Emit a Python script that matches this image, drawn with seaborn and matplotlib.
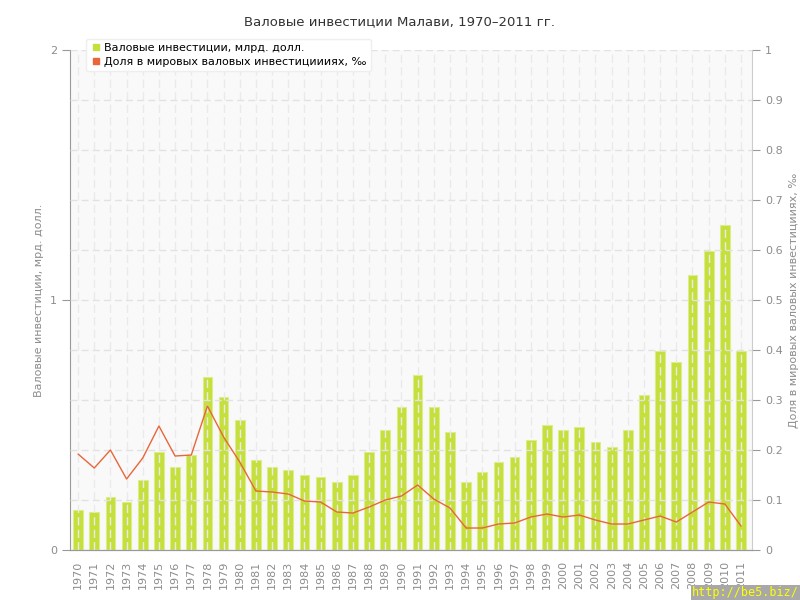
import numpy as np
import pandas as pd
import matplotlib
matplotlib.use('Agg')
import matplotlib.pyplot as plt
import seaborn as sns
from matplotlib.lines import Line2D

years = list(range(1970, 2012))
# валовые инвестиции, млрд. долл.
invest = [0.16, 0.152, 0.212, 0.192, 0.28, 0.392, 0.332, 0.38, 0.692, 0.612,
          0.52, 0.36, 0.332, 0.32, 0.30, 0.292, 0.272, 0.30, 0.392, 0.48,
          0.572, 0.70, 0.572, 0.472, 0.272, 0.312, 0.352, 0.372, 0.44, 0.50,
          0.48, 0.492, 0.432, 0.412, 0.48, 0.62, 0.796, 0.752, 1.10, 1.196,
          1.30, 0.796]
# доля в мировых валовых инвестициях, промилле
share = [0.192, 0.164, 0.20, 0.142, 0.184, 0.248, 0.188, 0.19, 0.288, 0.226,
         0.176, 0.118, 0.116, 0.112, 0.098, 0.096, 0.076, 0.074, 0.086, 0.10,
         0.108, 0.13, 0.102, 0.084, 0.044, 0.044, 0.052, 0.054, 0.066, 0.072,
         0.066, 0.07, 0.06, 0.052, 0.052, 0.06, 0.068, 0.056, 0.076, 0.096,
         0.092, 0.048]

df = pd.DataFrame({'year': [str(y) for y in years], 'invest': invest, 'share': share})
df['pos'] = np.arange(len(df))

bar_col = '#c5df3c'
line_col = '#e8663a'
txt_col = '#8c8c8c'
grid_col = '#e2e2e2'

sns.set_style('white')
plt.rcParams['font.family'] = ['DejaVu Sans']

fig = plt.figure(figsize=(8, 6), dpi=100)
ax = fig.add_axes([0.0875, 0.0833, 0.8525, 0.8334])
ax.set_facecolor('#f9f9f9')

sns.barplot(data=df, x='year', y='invest', color=bar_col, width=0.6,
            edgecolor='#dcee8a', linewidth=0.8, saturation=1, ax=ax, zorder=2)

ax.set_xlim(-0.5, len(df) - 0.32)
ax.set_ylim(0, 2)
ax.set_yticks([0, 1, 2])
ax.set_yticks(np.arange(0, 2.01, 0.2), minor=True)
ax.grid(True, which='both', axis='y', color=grid_col, linestyle=(0, (5, 3)), linewidth=1, zorder=3)
ax.grid(True, which='major', axis='x', color='#eaeaea', linestyle=(0, (6, 3)), linewidth=1, zorder=3)
ax.set_axisbelow(False)
for b in ax.patches:
    b.set_zorder(1)

ax.tick_params(axis='x', labelrotation=90, labelsize=8, colors=txt_col, length=4, width=1, color='#999999')
ax.tick_params(axis='y', which='major', labelsize=8, colors=txt_col, length=6, color='#999999', direction='out')
ax.tick_params(axis='y', which='minor', length=0)
ax.set_xlabel('')
ax.set_ylabel('Валовые инвестиции, мрд. долл.', fontsize=8, color=txt_col, labelpad=4)
for s in ['top', 'right']:
    ax.spines[s].set_visible(False)
ax.spines['left'].set_color('#999999')
ax.spines['bottom'].set_color('#999999')

ax2 = ax.twinx()
sns.lineplot(data=df, x='pos', y='share', color=line_col, linewidth=1, ax=ax2)
ax2.set_ylim(0, 1)
ax2.set_yticks(np.arange(0, 1.01, 0.1))
ax2.set_yticklabels(['0'] + ['%.1f' % v for v in np.arange(0.1, 0.95, 0.1)] + ['1'])
ax2.tick_params(axis='y', labelsize=8, colors=txt_col, length=6, color='#999999')
ax2.set_ylabel('Доля в мировых валовых инвестицииях, ‰', fontsize=8, color=txt_col, labelpad=4)
ax2.set_xlabel('')
for s in ['top', 'left']:
    ax2.spines[s].set_visible(False)
ax2.spines['right'].set_color('#cccccc')
ax2.spines['bottom'].set_color('#999999')

fig.suptitle('Валовые инвестиции Малави, 1970–2011 гг.', y=0.975, fontsize=9.5, color='#333333')

handles = [Line2D([], [], marker='s', linestyle='none', markersize=5, color=bar_col),
           Line2D([], [], marker='s', linestyle='none', markersize=5, color=line_col)]
leg = fig.legend(handles, ['Валовые инвестиции, млрд. долл.', 'Доля в мировых валовых инвестициииях, ‰'],
                 loc='upper left', bbox_to_anchor=(0.1, 0.945), fontsize=8, frameon=True,
                 fancybox=True, framealpha=1, edgecolor='#eeeeee', handletextpad=0.3,
                 borderpad=0.4, labelspacing=0.35, handlelength=1)
leg.get_frame().set_facecolor('white')
for t in leg.get_texts():
    t.set_color('black')

fig.text(0.999, 0.001, 'http://be5.biz/', ha='right', va='bottom', fontsize=8.5, color='#ffff00',
         family='DejaVu Sans Mono',
         bbox=dict(facecolor='#a8a8a8', edgecolor='none', pad=1.2))

fig.savefig('out.png', dpi=100)
